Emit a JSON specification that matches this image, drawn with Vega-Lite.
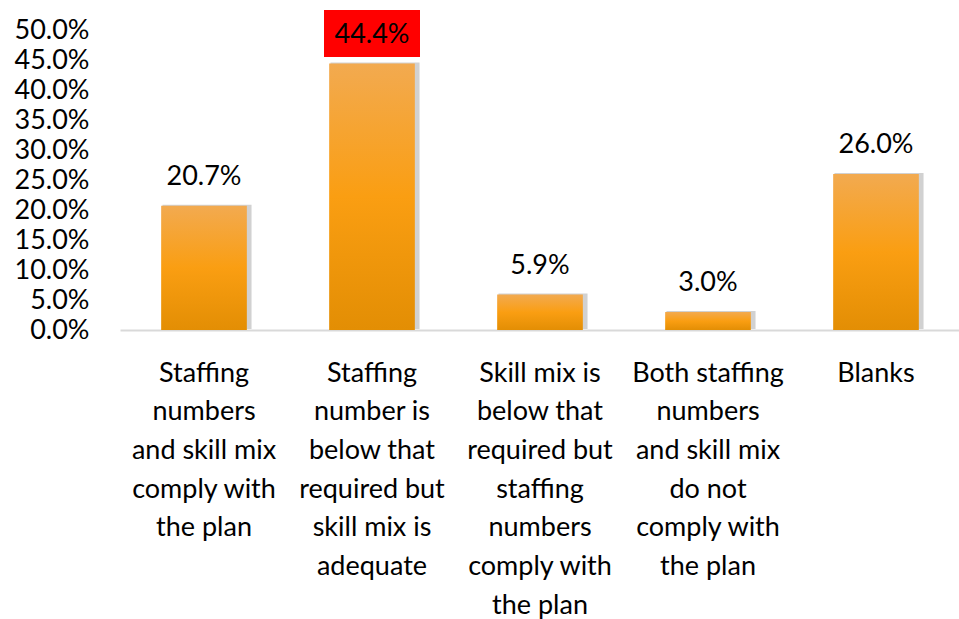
{
  "$schema": "https://vega.github.io/schema/vega-lite/v6.json",
  "width": 840,
  "height": 300,
  "autosize": {"type": "none"},
  "padding": {"left": 120, "top": 30, "right": 0, "bottom": 289},
  "background": "white",
  "config": {"view": {"stroke": null}, "font": "Lato"},
  "data": {
    "values": [
      {"category": "Staffing\nnumbers\nand skill mix\ncomply with\nthe plan", "value": 0.207},
      {"category": "Staffing\nnumber is\nbelow that\nrequired but\nskill mix is\nadequate", "value": 0.444},
      {"category": "Skill mix is\nbelow that\nrequired but\nstaffing\nnumbers\ncomply with\nthe plan", "value": 0.059},
      {"category": "Both staffing\nnumbers\nand skill mix\ndo not\ncomply with\nthe plan", "value": 0.030},
      {"category": "Blanks", "value": 0.260}
    ]
  },
  "encoding": {
    "x": {
      "field": "category",
      "type": "nominal",
      "sort": null,
      "scale": {"paddingInner": 0.49, "paddingOuter": 0.245},
      "axis": {
        "title": null,
        "labelAngle": 0,
        "labelExpr": "split(datum.label, '\\n')",
        "labelFontSize": 27,
        "labelColor": "#000000",
        "labelLineHeight": 38.7,
        "labelPadding": 30,
        "labelBaseline": "top",
        "ticks": false,
        "domainColor": "#d9d9d9",
        "domainWidth": 2,
        "labelLimit": 0
      }
    },
    "y": {
      "field": "value",
      "type": "quantitative",
      "scale": {"domain": [0, 0.5], "nice": false},
      "axis": {
        "title": null,
        "format": ".1%",
        "values": [0, 0.05, 0.1, 0.15, 0.2, 0.25, 0.3, 0.35, 0.4, 0.45, 0.5],
        "grid": false,
        "domain": false,
        "ticks": false,
        "labelFontSize": 27,
        "labelColor": "#000000",
        "labelPadding": 31
      }
    }
  },
  "layer": [
    {
      "mark": {"type": "bar", "color": "#000000", "opacity": 0.18, "xOffset": 3, "yOffset": -1, "width": {"band": 1.04}},
      "encoding": {}
    },
    {
      "mark": {
        "type": "bar",
        "width": {"band": 1},
        "color": {
          "gradient": "linear",
          "x1": 0, "y1": 0, "x2": 0, "y2": 1,
          "stops": [
            {"offset": 0, "color": "#F2AA50"},
            {"offset": 0.5, "color": "#FA9E12"},
            {"offset": 1, "color": "#E38E04"}
          ]
        }
      },
      "encoding": {}
    },
    {
      "transform": [{"filter": {"field": "value", "equal": 0.444}}],
      "mark": {
        "type": "point",
        "shape": "M-1,-0.49L1,-0.49L1,0.49L-1,0.49Z",
        "size": 9216,
        "filled": true,
        "color": "#FF0000",
        "opacity": 1,
        "yOffset": -30
      },
      "encoding": {}
    },
    {
      "mark": {"type": "text", "fontSize": 27, "color": "#000000", "baseline": "middle", "dy": -29},
      "encoding": {"text": {"field": "value", "type": "quantitative", "format": ".1%"}}
    }
  ]
}
